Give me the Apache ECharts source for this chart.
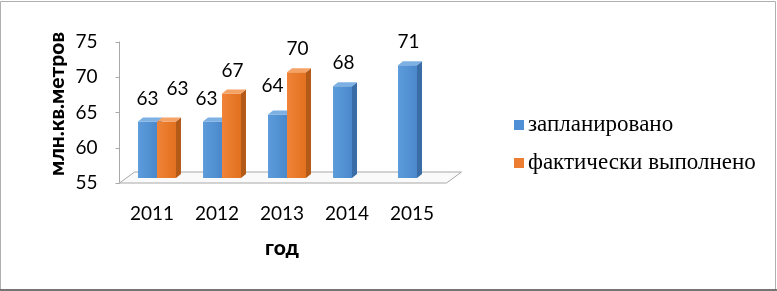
<!DOCTYPE html>
<html><head><meta charset="utf-8">
<script src="https://cdn.jsdelivr.net/npm/echarts@6/dist/echarts.min.js"></script>
<style>html,body{margin:0;padding:0;background:#fff}#c{width:777px;height:291px}</style>
</head><body><div id="c"></div>
<script>
var categories = ['2011', '2012', '2013', '2014', '2015'];
var planned = [63, 63, 64, 68, 71];
var actual = [63, 67, 70, null, null];
var seriesNames = ['запланировано', 'фактически выполнено'];
var yTicks = [55, 60, 65, 70, 75];

// label nudges (style only): [dx, dy] per category for each series
var labelNudge = [
  [[-1, 0], [-7, 0], [-6, -6], [0, 0], [0, 0]],
  [[10, -10], [0, 0], [0, 0], [0, 0], [0, 0]]
];
var palettes = [
  {front: ['#5C9CDB', '#4A88CB'], side: '#3A6DA6', top: '#7DB0E3', key: '#4F8FD6'},
  {front: ['#F08338', '#E2711F'], side: '#B45A19', top: '#F5A266', key: '#ED7D31'}
];
var FONT = 'Lato, "Open Sans", sans-serif';
var SERIF = '"Liberation Serif", "DejaVu Serif", serif';

function barRender(s) {
  return function (params, api) {
    var idx = api.value(0), v = api.value(1);
    if (v == null || isNaN(v)) return null;
    var base = api.coord([idx, yTicks[0]]);
    var topP = api.coord([idx, v]);
    var band = api.size([1, 0])[0];
    var bw = band * 0.292;
    var cx = base[0] + band * 0.077;
    var x0 = cx - bw + s * bw, x1 = x0 + bw;
    var yb = base[1] - 5, yt = topP[1] - 5;
    var dx = 5, dy = -4;
    var p = palettes[s];
    var nud = labelNudge[s][idx];
    return {
      type: 'group',
      children: [
        {type: 'rect', shape: {x: x0, y: yt, width: bw, height: yb - yt},
          style: {fill: new echarts.graphic.LinearGradient(0, 0, 1, 0, [{offset: 0, color: p.front[0]}, {offset: 1, color: p.front[1]}])}},
        {type: 'polygon', shape: {points: [[x1, yt], [x1 + dx, yt + dy], [x1 + dx, yb + dy], [x1, yb]]},
          style: {fill: p.side}},
        {type: 'polygon', shape: {points: [[x0, yt], [x0 + dx, yt + dy], [x1 + dx, yt + dy], [x1, yt]]},
          style: {fill: p.top}},
        {type: 'text', style: {text: String(v), x: (x0 + x1) / 2 + 1 + nud[0], y: yt - 23 + nud[1],
          align: 'center', verticalAlign: 'middle', font: '19px ' + FONT, fill: '#000'}}
      ]
    };
  };
}

function floorRender(params, api) {
  var a = api.coord([0, yTicks[0]]);
  var band = api.size([1, 0])[0];
  var xl = a[0] - band / 2, xr = xl + band * categories.length + 2, y = a[1];
  var dx = 15, dy = -11;
  return {
    type: 'polygon',
    shape: {points: [[xl, y], [xl + dx, y + dy], [xr + dx, y + dy], [xr, y]]},
    style: {fill: '#FAFAFA', stroke: '#A8A8A8', lineWidth: 1}
  };
}

var legendGraphics = [];
seriesNames.forEach(function (n, i) {
  var cy = 125 + i * 38;
  legendGraphics.push({type: 'rect', shape: {x: 514, y: cy - 5, width: 10, height: 10}, style: {fill: palettes[i].key}});
  legendGraphics.push({type: 'text', x: 528, y: cy, style: {text: n, align: 'left', verticalAlign: 'middle',
    font: '23px ' + SERIF, fill: '#000'}});
});

var chart = echarts.init(document.getElementById('c'));
chart.setOption({
  animation: false,
  backgroundColor: '#fff',
  grid: {left: 119.5, top: 42, width: 325, height: 141},
  xAxis: {
    type: 'category', data: categories,
    axisLine: {show: false}, axisTick: {show: false},
    axisLabel: {margin: 21, fontFamily: FONT, fontSize: 19, color: '#000'}
  },
  yAxis: {
    type: 'value', min: 55, max: 75, interval: 5,
    splitLine: {show: false},
    axisLine: {show: true, lineStyle: {color: '#A8A8A8'}},
    axisTick: {show: true, length: 4, lineStyle: {color: '#A8A8A8'}},
    axisLabel: {margin: 22, fontFamily: FONT, fontSize: 19, color: '#000'}
  },
  graphic: [
    {type: 'rect', shape: {x: 0.5, y: 1.5, width: 775, height: 288.5}, style: {fill: 'none', stroke: '#B0B0B0', lineWidth: 1}, silent: true},
    {type: 'line', shape: {x1: 0, y1: 290, x2: 777, y2: 290}, style: {stroke: '#555', lineWidth: 1.5}},
    {type: 'text', x: 57, y: 104, rotation: Math.PI / 2,
      style: {text: 'млн.кв.метров', align: 'center', verticalAlign: 'middle', font: '900 21px ' + FONT, fill: '#000'}},
    {type: 'text', x: 282, y: 248,
      style: {text: 'год', align: 'center', verticalAlign: 'middle', font: '900 21px ' + FONT, fill: '#000'}}
  ].concat(legendGraphics),
  series: [
    {type: 'custom', name: 'floor', renderItem: floorRender, data: [[0, 55]], silent: true, z: 1},
    {type: 'custom', name: seriesNames[0], renderItem: barRender(0), itemStyle: {color: palettes[0].key},
      data: planned.map(function (v, i) { return [i, v]; }), z: 2},
    {type: 'custom', name: seriesNames[1], renderItem: barRender(1), itemStyle: {color: palettes[1].key},
      data: actual.map(function (v, i) { return [i, v]; }), z: 3}
  ]
});
</script></body></html>
